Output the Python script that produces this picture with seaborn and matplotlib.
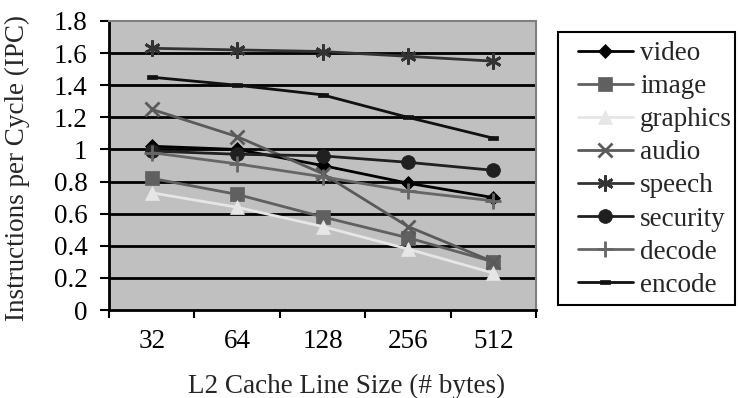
import matplotlib
matplotlib.use("Agg")
import matplotlib.pyplot as plt
import seaborn as sns
import pandas as pd
from matplotlib.ticker import FixedLocator
from matplotlib.patches import Rectangle

sizes = ["32", "64", "128", "256", "512"]
video = [1.02, 1.00, 0.90, 0.79, 0.70]
image = [0.82, 0.72, 0.58, 0.45, 0.30]
graphics = [0.73, 0.64, 0.52, 0.38, 0.23]
audio = [1.25, 1.08, 0.85, 0.52, 0.30]
speech = [1.63, 1.62, 1.61, 1.58, 1.55]
security = [0.99, 0.97, 0.96, 0.92, 0.87]
decode = [0.98, 0.91, 0.83, 0.74, 0.68]
encode = [1.45, 1.40, 1.34, 1.20, 1.07]

series = {"video": video, "image": image, "graphics": graphics, "audio": audio,
          "speech": speech, "security": security, "decode": decode, "encode": encode}
names = list(series.keys())

rows = []
for n in names:
    for s, v in zip(sizes, series[n]):
        rows.append({"size": s, "ipc": v, "bench": n})
df = pd.DataFrame(rows)

palette = {"video": "#000000", "image": "#606060", "graphics": "#e6e6e6", "audio": "#5a5a5a",
           "speech": "#333333", "security": "#202020", "decode": "#666666", "encode": "#111111"}
rect = [(-1, -0.4), (1, -0.4), (1, 0.4), (-1, 0.4), (-1, -0.4)]
markers = {"video": "D", "image": "s", "graphics": "^", "audio": "x",
           "speech": (6, 2, 0), "security": "o", "decode": "+", "encode": rect}
msize = {"video": 7.5, "image": 10, "graphics": 10.5, "audio": 10,
         "speech": 11.5, "security": 10, "decode": 12, "encode": 7}
thin = {"audio", "speech", "decode"}

sns.set_theme(style="white")
plt.rcParams['font.family'] = ['Liberation Serif', 'DejaVu Serif']
FS = 19.5

fig = plt.figure(figsize=(7.38, 3.98), dpi=100)
ax = fig.add_axes([109/738, 1-310/398, (536-109)/738, (310-21)/398])
ax.set_facecolor("#c0c0c0")

for n in names:
    sub = df[df["bench"] == n]
    sns.lineplot(data=sub, x="size", y="ipc", ax=ax, color=palette[n], marker=markers[n],
                 markersize=msize[n], markeredgewidth=2 if n in thin else 0.5,
                 markeredgecolor=palette[n], linewidth=2, label=n, sort=False)
if ax.get_legend() is not None:
    ax.get_legend().remove()

ax.set_ylim(0, 1.8)
ax.set_xlim(-0.5, 4.5)
ax.set_yticks([0, 0.2, 0.4, 0.6, 0.8, 1.0, 1.2, 1.4, 1.6, 1.8])
ax.set_yticklabels(["0", "0.2", "0.4", "0.6", "0.8", "1", "1.2", "1.4", "1.6", "1.8"])
for y in [0.2, 0.4, 0.6, 0.8, 1.0, 1.2, 1.4, 1.6]:
    ax.axhline(y, color="black", linewidth=2, zorder=0.5)
ax.set_xticks(range(5))
ax.set_xticklabels(sizes)
ax.xaxis.set_minor_locator(FixedLocator([-0.5, 0.5, 1.5, 2.5, 3.5, 4.5]))
ax.tick_params(axis="x", which="major", length=0, labelsize=FS, pad=14, colors="black")
ax.tick_params(axis="x", which="minor", length=6, width=1.5, color="black", bottom=True)
ax.tick_params(axis="y", which="major", length=6.5, width=1.5, labelsize=FS, pad=9,
               left=True, colors="black")
for sp in ["left", "bottom"]:
    ax.spines[sp].set_color("black")
    ax.spines[sp].set_linewidth(2)
for sp in ["top", "right"]:
    ax.spines[sp].set_color("#808080")
    ax.spines[sp].set_linewidth(1.5)

ax.set_xlabel("L2 Cache Line Size (# bytes)", fontsize=FS)
ax.xaxis.set_label_coords((347-109)/427, (310-374)/289)
ax.set_ylabel("Instructions per Cycle (IPC)", fontsize=FS)
ax.yaxis.set_label_coords((30-109)/427, 0.49)

handles, labels = ax.get_legend_handles_labels()
leg = fig.legend(handles, labels, loc="upper left", bbox_to_anchor=(578/738, 1-41/398),
                 frameon=False, fontsize=FS,
                 handlelength=2.03, handletextpad=0.26, labelspacing=0.30, borderpad=0,
                 borderaxespad=0)
fig.add_artist(Rectangle((558/738, 1-305/398), 177/738, 273/398, transform=fig.transFigure,
                         fill=False, edgecolor="black", linewidth=1.5))

fig.savefig("out.png", dpi=100)
